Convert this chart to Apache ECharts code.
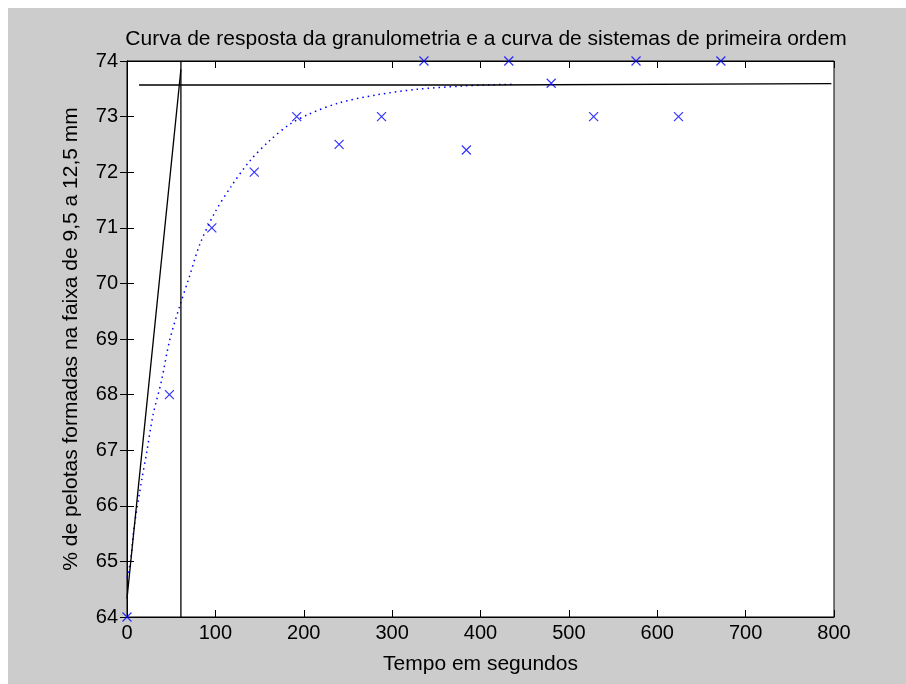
<!DOCTYPE html>
<html>
<head>
<meta charset="utf-8">
<script src="https://cdn.jsdelivr.net/npm/echarts@6/dist/echarts.min.js"></script>
<style>
html,body{margin:0;padding:0;background:#fff;}
#chart{width:906px;height:684px;}
</style>
</head>
<body>
<div id="chart"></div>
<script>
// Measured data (seconds, %)
const timeSec = [0, 48, 96, 144, 192, 240, 288, 336, 384, 432, 480, 528, 576, 624, 672];
const granulometria = [64, 68, 71, 72, 73, 72.5, 73, 74, 72.4, 74, 73.6, 73, 74, 73, 74];

// First-order model curve
const modelTime = [0, 4.2, 7.9, 16.6, 22.3, 29.4, 38.9, 48.3, 59.6, 70.2, 82.3, 99.2, 118.1, 138.8, 161.5, 184.1, 206.7, 240.7, 282.2, 327.5, 379.5, 404.7, 436.4];
const modelValue = [64.70, 65.03, 65.60, 66.46, 66.96, 67.63, 68.24, 68.98, 69.59, 70.10, 70.70, 71.27, 71.75, 72.20, 72.57, 72.86, 73.05, 73.25, 73.39, 73.49, 73.55, 73.57, 73.58];

// Tangent line at origin
const tangentTime = [0, 61];
const tangentValue = [64.33, 73.85];

// Vertical line at time constant
const tauTime = [61, 61];
const tauValue = [64, 74];

// Steady-state horizontal line
const steadyTime = [13.6, 404.6, 404.6, 797];
const steadyValue = [73.568, 73.568, 73.593, 73.593];

const xTicks = [0, 100, 200, 300, 400, 500, 600, 700, 800];
const yTicks = [64, 65, 66, 67, 68, 69, 70, 71, 72, 73, 74];

const titleText = 'Curva de resposta da granulometria e a curva de sistemas de primeira ordem';
const xName = 'Tempo em segundos';
const yName = '% de pelotas formadas na faixa de 9,5 a 12,5 mm';

const zip = (a, b) => a.map((v, i) => [v, b[i]]);
const FONT = '"Liberation Sans", Arial, sans-serif';

const chart = echarts.init(document.getElementById('chart'), null, {renderer: 'canvas'});

const tickStyle = {show: true, inside: true, length: 7, lineStyle: {color: '#000', width: 1}};
const axisBase = {
  type: 'value',
  axisLine: {show: true, lineStyle: {color: '#000', width: 1}},
  axisTick: tickStyle,
  splitLine: {show: false},
};

chart.setOption({
  animation: false,
  backgroundColor: '#cccccc',
  graphic: [
    {type: 'rect', shape: {x: 0, y: 0, width: 906, height: 8}, style: {fill: '#fff'}, z: 100},
    {type: 'rect', shape: {x: 0, y: 0, width: 8, height: 684}, style: {fill: '#fff'}, z: 100}
  ],
  title: {
    text: titleText,
    left: 481,
    top: 24,
    textAlign: 'center',
    textStyle: {fontFamily: FONT, fontSize: 21, fontWeight: 'normal', color: '#000'}
  },
  grid: {
    left: 127, top: 61, width: 707, height: 556,
    show: true, backgroundColor: '#fff', borderColor: '#000', borderWidth: 1
  },
  xAxis: [
    Object.assign({}, axisBase, {
      position: 'bottom', min: 0, max: 800, interval: 100,
      name: xName, nameLocation: 'middle', nameGap: 37,
      nameTextStyle: {fontFamily: FONT, fontSize: 21, color: '#000'},
      axisLabel: {show: true, margin: 6, fontFamily: FONT, fontSize: 20, color: '#000',
        formatter: v => xTicks.includes(v) ? String(v) : ''}
    }),
    Object.assign({}, axisBase, {
      position: 'top', min: 0, max: 800, interval: 100,
      axisLabel: {show: false}
    })
  ],
  yAxis: [
    Object.assign({}, axisBase, {
      position: 'left', min: 64, max: 74, interval: 1,
      name: yName, nameLocation: 'middle', nameGap: 45,
      nameTextStyle: {fontFamily: FONT, fontSize: 21, color: '#000'},
      axisLabel: {show: true, margin: 9, fontFamily: FONT, fontSize: 20, color: '#000',
        formatter: v => yTicks.includes(v) ? String(v) : ''}
    }),
    Object.assign({}, axisBase, {
      position: 'right', min: 64, max: 74, interval: 1,
      axisLabel: {show: false}
    })
  ],
  series: [
    {
      type: 'line', data: zip(modelTime, modelValue), smooth: 0.3,
      showSymbol: false, symbol: 'none',
      lineStyle: {color: '#0000ff', width: 1.5, type: [1.5, 4], cap: 'butt'},
      z: 2, silent: true
    },
    {
      type: 'line', data: zip(tangentTime, tangentValue), symbol: 'none',
      lineStyle: {color: '#000', width: 1.3}, z: 3, silent: true
    },
    {
      type: 'line', data: zip(tauTime, tauValue), symbol: 'none',
      lineStyle: {color: '#000', width: 1.3}, z: 3, silent: true
    },
    {
      type: 'line', data: zip(steadyTime, steadyValue), symbol: 'none',
      lineStyle: {color: '#000', width: 1.3}, z: 3, silent: true
    },
    {
      type: 'scatter', data: zip(timeSec, granulometria),
      symbol: 'path://M0,0L10,10M10,0L0,10', symbolSize: 9,
      itemStyle: {color: 'none', borderColor: '#0000ff', borderWidth: 1.2},
      clip: false, z: 4, silent: true
    }
  ]
});
</script>
</body>
</html>
